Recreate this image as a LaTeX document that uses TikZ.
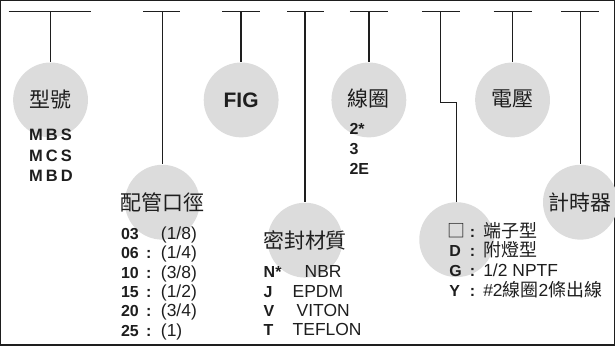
\documentclass[tikz,border=0pt]{standalone}
\usepackage{fontspec}
\setmainfont{Liberation Sans}
\newfontfamily\cjk{Noto Sans CJK TC}
\newfontfamily\wide[LetterSpace=18]{Liberation Sans}
\usetikzlibrary{positioning}
\definecolor{discgray}{HTML}{DCDCDC}
\definecolor{ink}{HTML}{1E1E1E}
\tikzstyle{every node}=[text=ink]
\tikzstyle{every path}=[line width=1.3pt,draw=ink]
\tikzstyle{ball}=[circle,fill=discgray,draw=none,minimum size=75pt,inner sep=0pt]
\tikzstyle{title}=[inner sep=0pt,font=\cjk\fontsize{21}{25}\selectfont]
\tikzstyle{key}=[anchor=base west,inner sep=0pt,font=\bfseries\fontsize{16}{19}\selectfont]
\tikzstyle{colon}=[anchor=base,inner sep=0pt,font=\bfseries\fontsize{16}{19}\selectfont]
\tikzstyle{val}=[anchor=base west,inner sep=0pt,font=\fontsize{17.5}{20}\selectfont]
\tikzstyle{cval}=[anchor=base west,inner sep=0pt,font=\cjk\fontsize{18}{21}\selectfont]

\begin{document}
\begin{tikzpicture}[x=1pt,y=-1pt]
\useasboundingbox (0,0) rectangle (615,345);

% top bars
\draw (8,11) -- (91,11);
\draw (143,11) -- (180,11);
\draw (222,11) -- (260,11);
\draw (287,11) -- (324,11);
\draw (350,11) -- (388,11);
\draw (422,11) -- (460,11);
\draw (494,11) -- (532,11);
\draw (562,11) -- (600,11);
\coordinate (t1) at (50,11);
\coordinate (t2) at (162,11);
\coordinate (t3) at (241,11);
\coordinate (t4) at (305,11);
\coordinate (t5) at (369,11);
\coordinate (t6) at (441,11);
\coordinate (k6) at (441,102);
\coordinate (t7) at (513,11);
\coordinate (t8) at (581,11);

% discs
\node[ball] (model) at (50,99.5) {};
\node[ball] (port) at (162,202) {};
\node[ball] (fig) at (241,99.5) {};
\node[ball] (seal) at (305,240) {};
\node[ball] (coil) at (369,99.5) {};
\node[ball] (conn) at (457,239.5) {};
\node[ball] (volt) at (513,99.5) {};
\node[ball] (timer) at (581,202) {};

\draw (t1) -- (model.north);
\draw (t2) -- (port.north);
\draw (t3) -- (fig.north);
\draw (t4) -- (seal.north);
\draw (t5) -- (coil.north);
\draw (t6) -- (k6) -| (conn.north);
\draw (t7) -- (volt.north);
\draw (t8) -- (timer.north);

\node[title] (modelt) at (model) {型號};
\node[title,font=\bfseries\fontsize{21}{25}\selectfont] (figt) at (fig) {FIG};
\node[title] (portt) at (port) {配管口徑};
\node[title] (sealt) at (seal) {密封材質};
\node[title] (coilt) at ([yshift=1pt]coil) {線圈};
\node[title] (voltt) at ([yshift=1pt]volt) {電壓};
\node[title] (timert) at (timer) {計時器};

% model list
\node[key,font=\wide\bfseries\fontsize{16.5}{19}\selectfont] (mbs) at (28,140) {MBS};
\node[key,font=\wide\bfseries\fontsize{16.5}{19}\selectfont] (mcs) at (28,161) {MCS};
\node[key,font=\wide\bfseries\fontsize{16.5}{19}\selectfont] (mbd) at (28,181) {MBD};

% coil list
\node[key] (c2s) at (349,134) {2*};
\node[key] (c3) at (349,154) {3};
\node[key] (c2e) at (349,174) {2E};

% port list
\node[key] (p03) at (120,239.3) {03};
\node[val] (v03) at (160,239.3) {(1/8)};
\node[key] (p06) at (120,258.7) {06};
\node[colon] (q06) at (148.5,258.7) {:};
\node[val] (v06) at (160,258.7) {(1/4)};
\node[key] (p10) at (120,278.1) {10};
\node[colon] (q10) at (148.5,278.1) {:};
\node[val] (v10) at (160,278.1) {(3/8)};
\node[key] (p15) at (120,297.5) {15};
\node[colon] (q15) at (148.5,297.5) {:};
\node[val] (v15) at (160,297.5) {(1/2)};
\node[key] (p20) at (120,316.9) {20};
\node[colon] (q20) at (148.5,316.9) {:};
\node[val] (v20) at (160,316.9) {(3/4)};
\node[key] (p25) at (120,336.3) {25};
\node[colon] (q25) at (148.5,336.3) {:};
\node[val] (v25) at (160,336.3) {(1)};

% seal list
\node[key] (sn) at (263,277.5) {N*};
\node[val] (snv) at (304,277.5) {NBR};
\node[key] (sj) at (263,297) {J};
\node[val] (sjv) at (292,297) {EPDM};
\node[key] (sv) at (263,316.5) {V};
\node[val] (svv) at (296,316.5) {VITON};
\node[key] (st) at (263,336) {T};
\node[val] (stv) at (292,336) {TEFLON};

% connector list
\node[cval] (ck) at (447,237.5) {□};
\node[colon] (cq) at (473,237) {:};
\node[cval] (cv) at (483,237) {端子型};
\node[key] (dk) at (449,256.5) {D};
\node[colon] (dq) at (473,256.5) {:};
\node[cval] (dv) at (483,256.5) {附燈型};
\node[key] (gk) at (449,276) {G};
\node[colon] (gq) at (473,276) {:};
\node[val] (gv) at (483,276) {1/2 NPTF};
\node[key] (yk) at (449,296) {Y};
\node[colon] (yq) at (473,296) {:};
\node[val] (yv) at (483,296) {\#2{\cjk\fontsize{18}{21}\selectfont 線圈}2{\cjk\fontsize{18}{21}\selectfont 條出線}};
\end{tikzpicture}
\end{document}
